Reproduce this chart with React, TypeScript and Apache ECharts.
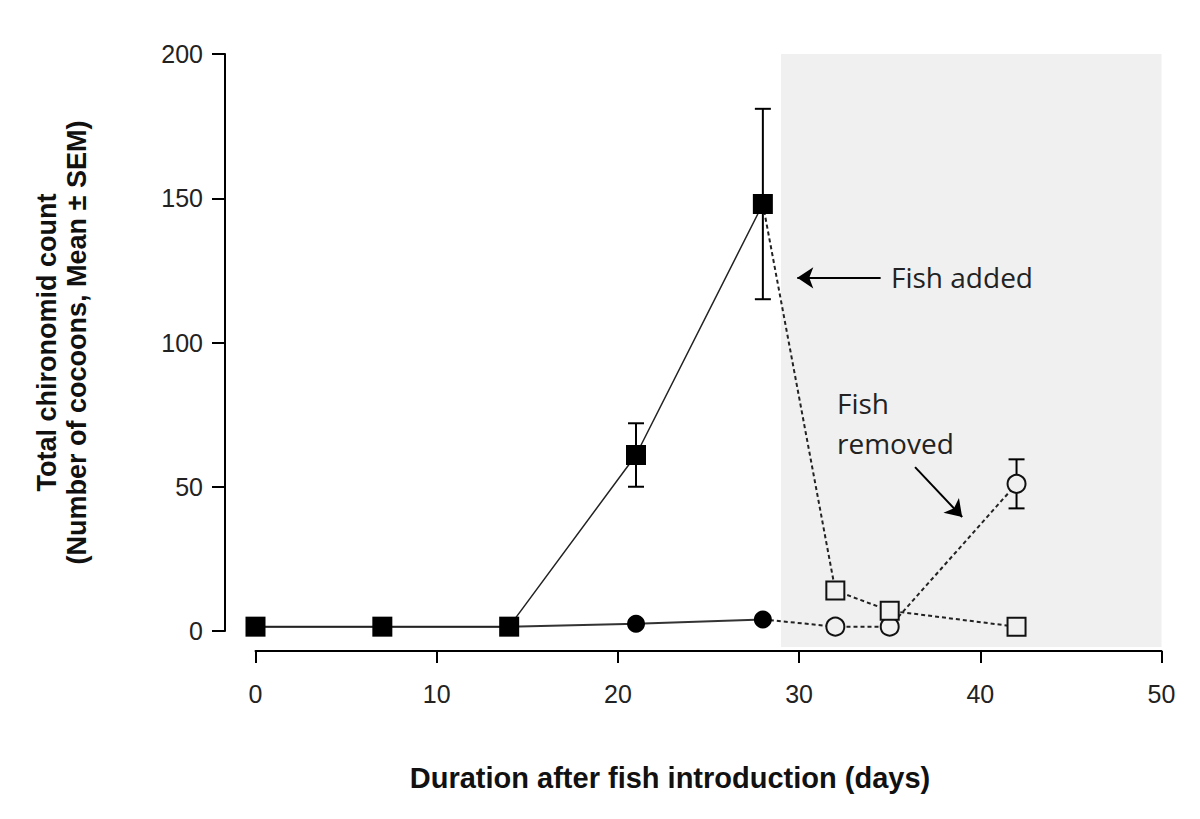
import React, { useEffect, useRef } from "react";
import * as echarts from "echarts";

// ---- data ----
const daysBefore = [0, 7, 14, 21, 28];
const squaresBefore = [1.5, 1.5, 1.5, 61, 148];
const squaresBeforeErr = [0, 0, 0, 11, 33];
const circlesBefore = [1.5, 1.5, 1.5, 2.5, 4];

const daysAfter = [32, 35, 42];
const squaresAfter = [14, 7, 1.5];
const circlesAfter = [1.5, 1.5, 51];
const circlesAfterErr = [0, 0, 8.5];

const fishPeriod = [29, 50];
const xRange = [0, 50];
const yRange = [0, 200];

const xTitle = "Duration after fish introduction (days)";
const yTitle = "Total chironomid count\n(Number of cocoons, Mean ± SEM)";

// annotation arrows (data coordinates)
const addedArrow = [[34.5, 122.4], [29.9, 122.4]];
const removedArrow = [[36.4, 56.8], [39.0, 39.5]];

export default function App() {
  const ref = useRef<HTMLDivElement>(null);
  useEffect(() => {
    if (!ref.current) return;
    const chart = echarts.init(ref.current, null, { renderer: "svg" });

    const lastBefore = daysBefore.length - 1;
    const joinSq = { value: [daysBefore[lastBefore], squaresBefore[lastBefore]], symbol: "none" };
    const joinCi = { value: [daysBefore[lastBefore], circlesBefore[lastBefore]], symbol: "none" };

    const errData: number[][] = [];
    daysBefore.forEach((d, i) => {
      if (squaresBeforeErr[i] > 0)
        errData.push([d, squaresBefore[i] - squaresBeforeErr[i], squaresBefore[i] + squaresBeforeErr[i]]);
    });
    daysAfter.forEach((d, i) => {
      if (circlesAfterErr[i] > 0)
        errData.push([d, circlesAfter[i] - circlesAfterErr[i], circlesAfter[i] + circlesAfterErr[i]]);
    });

    const tickFont = { fontFamily: "Liberation Sans", fontSize: 25, color: "#222" };
    const openStyle = { color: "#f0f0f0", borderColor: "#111", borderWidth: 2 };

    chart.setOption({
      animation: false,
      backgroundColor: "#ffffff",
      grid: [
        { left: 255.5, right: 38.5, top: 54, height: 593 },
        { left: 255.5, right: 38.5, top: 54, height: 577 },
      ],
      xAxis: [
        {
          gridIndex: 0,
          type: "value",
          min: xRange[0],
          max: xRange[1],
          interval: 10,
          offset: 4,
          splitLine: { show: false },
          axisLine: { show: true, onZero: false, lineStyle: { color: "#000", width: 2 } },
          axisTick: { show: true, length: 12, lineStyle: { color: "#000", width: 2 } },
          axisLabel: { ...tickFont, margin: 30 },
          name: xTitle,
          nameLocation: "middle",
          nameGap: 112,
          nameTextStyle: {
            fontFamily: "Liberation Sans",
            fontWeight: "bold",
            fontSize: 29,
            color: "#111",
            padding: [0, 77, 0, 0],
          },
        },
        { gridIndex: 1, type: "value", min: xRange[0], max: xRange[1], show: false },
      ],
      yAxis: [
        {
          gridIndex: 0,
          type: "value",
          min: -5.55,
          max: yRange[1],
          show: false,
        },
        {
          gridIndex: 1,
          type: "value",
          min: yRange[0],
          max: yRange[1],
          interval: 50,
          offset: 30.5,
          splitLine: { show: false },
          axisLine: { show: true, onZero: false, lineStyle: { color: "#000", width: 2 } },
          axisTick: { show: true, length: 13, lineStyle: { color: "#000", width: 2 } },
          axisLabel: { ...tickFont, margin: 22 },
          name: yTitle,
          nameLocation: "middle",
          nameRotate: 90,
          nameGap: 133,
          nameTextStyle: {
            fontFamily: "Liberation Sans",
            fontWeight: "bold",
            fontSize: 27,
            lineHeight: 30,
            color: "#111",
            align: "center",
          },
        },
      ],
      series: [
        {
          type: "custom",
          name: "error bars",
          xAxisIndex: 0,
          yAxisIndex: 0,
          z: 2,
          data: errData,
          encode: { x: 0, y: [1, 2] },
          renderItem: (params: any, api: any) => {
            const x = api.value(0);
            const top = api.coord([x, api.value(2)]);
            const bot = api.coord([x, api.value(1)]);
            const w = 8;
            const st = { stroke: "#000", lineWidth: 2 };
            return {
              type: "group",
              children: [
                { type: "line", shape: { x1: top[0], y1: top[1], x2: bot[0], y2: bot[1] }, style: st },
                { type: "line", shape: { x1: top[0] - w, y1: top[1], x2: top[0] + w, y2: top[1] }, style: st },
                { type: "line", shape: { x1: bot[0] - w, y1: bot[1], x2: bot[0] + w, y2: bot[1] }, style: st },
              ],
            };
          },
          markArea: {
            silent: true,
            itemStyle: { color: "#f0f0f0" },
            data: [[{ xAxis: fishPeriod[0] }, { xAxis: fishPeriod[1] }]],
          },
        },
        {
          type: "line",
          name: "circles before",
          data: daysBefore.map((d, i) => [d, circlesBefore[i]]),
          symbol: "circle",
          symbolSize: 18,
          itemStyle: { color: "#000" },
          lineStyle: { color: "#333", width: 2 },
          z: 3,
        },
        {
          type: "line",
          name: "circles after",
          data: [joinCi, ...daysAfter.map((d, i) => [d, circlesAfter[i]])],
          symbol: "circle",
          symbolSize: 18,
          itemStyle: openStyle,
          lineStyle: { color: "#222", width: 2, type: [4, 3] },
          z: 3,
        },
        {
          type: "line",
          name: "squares before",
          data: daysBefore.map((d, i) => [d, squaresBefore[i]]),
          symbol: "rect",
          symbolSize: 20,
          itemStyle: { color: "#000" },
          lineStyle: { color: "#222", width: 1.5 },
          z: 4,
        },
        {
          type: "line",
          name: "squares after",
          data: [joinSq, ...daysAfter.map((d, i) => [d, squaresAfter[i]])],
          symbol: "rect",
          symbolSize: 18,
          itemStyle: openStyle,
          lineStyle: { color: "#222", width: 2, type: [4, 3] },
          z: 4,
          markLine: {
            silent: true,
            symbol: ["none", "arrow"],
            symbolSize: 16,
            label: { show: false },
            lineStyle: { color: "#000", width: 2, type: "solid" },
            data: [
              [{ coord: addedArrow[0] }, { coord: addedArrow[1] }],
              [{ coord: removedArrow[0] }, { coord: removedArrow[1] }],
            ],
          },
        },
      ],
      graphic: [
        {
          type: "text",
          z: 100,
          left: 891,
          top: 263,
          style: { text: "Fish added", fontFamily: "Open Sans", fontSize: 28, fill: "#222" },
        },
        {
          type: "text",
          z: 100,
          left: 837,
          top: 383,
          style: {
            text: "Fish\nremoved",
            fontFamily: "Open Sans",
            fontSize: 28,
            lineHeight: 40,
            fill: "#222",
          },
        },
      ],
    });
    return () => chart.dispose();
  }, []);
  return (
    <div
      ref={ref}
      style={{ position: "absolute", left: 0, top: 0, width: 1200, height: 819 }}
    />
  );
}
